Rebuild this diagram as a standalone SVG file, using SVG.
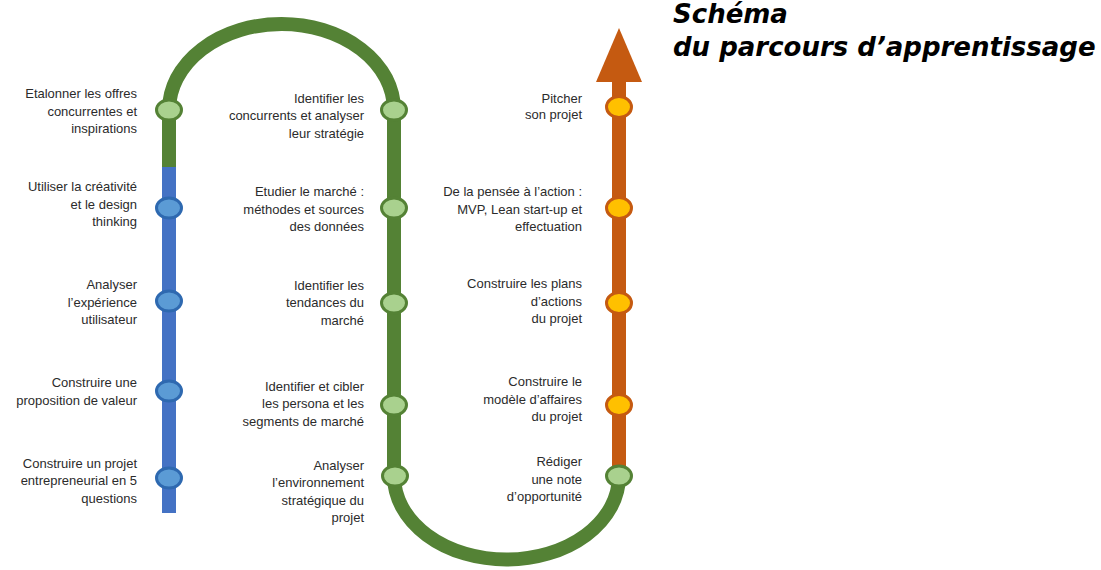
<svg xmlns="http://www.w3.org/2000/svg" width="1101" height="570" viewBox="0 0 1101 570">
<style>
.lbl{font-family:"Liberation Sans",Arial,sans-serif;font-size:13px;fill:#2b2b2b;text-anchor:end}
.title{font-family:"DejaVu Sans",Verdana,sans-serif;font-size:26px;font-weight:bold;font-style:italic;fill:#000}
.g{fill:#A9D18E;stroke:#548235;stroke-width:3}
.b{fill:#5B9BD5;stroke:#2E69B0;stroke-width:3}
.o{fill:#FFC000;stroke:#C55A11;stroke-width:3}
.track{fill:none;stroke-width:14}
</style>
<rect width="1101" height="570" fill="#fff"/>
<g id="connectors">
<path class="track" stroke="#4472C4" d="M169,166 L169,513"/>
<path class="track" stroke="#548235" d="M169,167 L169,110 A112.5,86 0 0 1 394,110 L394,476 A112.5,83.5 0 0 0 619,476 L619,468"/>
<path class="track" stroke="#C55A11" d="M619,469 L619,80"/>
<polygon fill="#C55A11" points="619,28 596,82 642,82"/>
</g>
<g id="title">
<text class="title" x="673" y="23">Schéma</text>
<text class="title" x="673" y="56">du parcours d’apprentissage</text>
</g>
<g id="n-l1"><ellipse class="g" cx="169" cy="110" rx="12.5" ry="10"/><text class="lbl" x="137" y="98"><tspan x="137">Etalonner les offres</tspan><tspan x="137" dy="17.5">concurrentes et</tspan><tspan x="137" dy="17.5">inspirations</tspan></text></g>
<g id="n-l2"><ellipse class="b" cx="169" cy="208" rx="12.5" ry="10"/><text class="lbl" x="137" y="191"><tspan x="137">Utiliser la créativité</tspan><tspan x="137" dy="17.5">et le design</tspan><tspan x="137" dy="17.5">thinking</tspan></text></g>
<g id="n-l3"><ellipse class="b" cx="169" cy="301" rx="12.5" ry="10"/><text class="lbl" x="137" y="289"><tspan x="137">Analyser</tspan><tspan x="137" dy="17.5">l’expérience</tspan><tspan x="137" dy="17.5">utilisateur</tspan></text></g>
<g id="n-l4"><ellipse class="b" cx="169" cy="391" rx="12.5" ry="10"/><text class="lbl" x="137" y="387"><tspan x="137">Construire une</tspan><tspan x="137" dy="17.5">proposition de valeur</tspan></text></g>
<g id="n-l5"><ellipse class="b" cx="169" cy="478" rx="12.5" ry="10"/><text class="lbl" x="137" y="467.5"><tspan x="137">Construire un projet</tspan><tspan x="137" dy="17.5">entrepreneurial en 5</tspan><tspan x="137" dy="17.5">questions</tspan></text></g>
<g id="n-m1"><ellipse class="g" cx="394" cy="110" rx="12.5" ry="10"/><text class="lbl" x="364" y="102.5"><tspan x="364">Identifier les</tspan><tspan x="364" dy="17.5">concurrents et analyser</tspan><tspan x="364" dy="17.5">leur stratégie</tspan></text></g>
<g id="n-m2"><ellipse class="g" cx="394" cy="208" rx="12.5" ry="10"/><text class="lbl" x="364" y="196"><tspan x="364">Etudier le marché :</tspan><tspan x="364" dy="17.5">méthodes et sources</tspan><tspan x="364" dy="17.5">des données</tspan></text></g>
<g id="n-m3"><ellipse class="g" cx="394" cy="303" rx="12.5" ry="10"/><text class="lbl" x="364" y="289.5"><tspan x="364">Identifier les</tspan><tspan x="364" dy="17.5">tendances du</tspan><tspan x="364" dy="17.5">marché</tspan></text></g>
<g id="n-m4"><ellipse class="g" cx="394" cy="405" rx="12.5" ry="10"/><text class="lbl" x="364" y="390.5"><tspan x="364">Identifier et cibler</tspan><tspan x="364" dy="17.5">les persona et les</tspan><tspan x="364" dy="17.5">segments de marché</tspan></text></g>
<g id="n-m5"><ellipse class="g" cx="395" cy="476" rx="12.5" ry="10"/><text class="lbl" x="364" y="469.5"><tspan x="364">Analyser</tspan><tspan x="364" dy="17.5">l’environnement</tspan><tspan x="364" dy="17.5">stratégique du</tspan><tspan x="364" dy="17.5">projet</tspan></text></g>
<g id="n-r1"><ellipse class="o" cx="619" cy="107" rx="12.5" ry="10.5"/><text class="lbl" x="582" y="102.5"><tspan x="582">Pitcher</tspan><tspan x="582" dy="16">son projet</tspan></text></g>
<g id="n-r2"><ellipse class="o" cx="619" cy="208" rx="12.5" ry="10.5"/><text class="lbl" x="582" y="196"><tspan x="582">De la pensée à l’action :</tspan><tspan x="582" dy="17.5">MVP, Lean start-up et</tspan><tspan x="582" dy="17.5">effectuation</tspan></text></g>
<g id="n-r3"><ellipse class="o" cx="619" cy="303" rx="12.5" ry="10.5"/><text class="lbl" x="582" y="288"><tspan x="582">Construire les plans</tspan><tspan x="582" dy="17.5">d’actions</tspan><tspan x="582" dy="17.5">du projet</tspan></text></g>
<g id="n-r4"><ellipse class="o" cx="619" cy="405" rx="12.5" ry="10.5"/><text class="lbl" x="582" y="386"><tspan x="582">Construire le</tspan><tspan x="582" dy="17.5">modèle d’affaires</tspan><tspan x="582" dy="17.5">du projet</tspan></text></g>
<g id="n-r5"><ellipse class="g" cx="619" cy="476" rx="12.5" ry="10"/><text class="lbl" x="582" y="466"><tspan x="582">Rédiger</tspan><tspan x="582" dy="17.5">une note</tspan><tspan x="582" dy="17.5">d’opportunité</tspan></text></g>
</svg>
